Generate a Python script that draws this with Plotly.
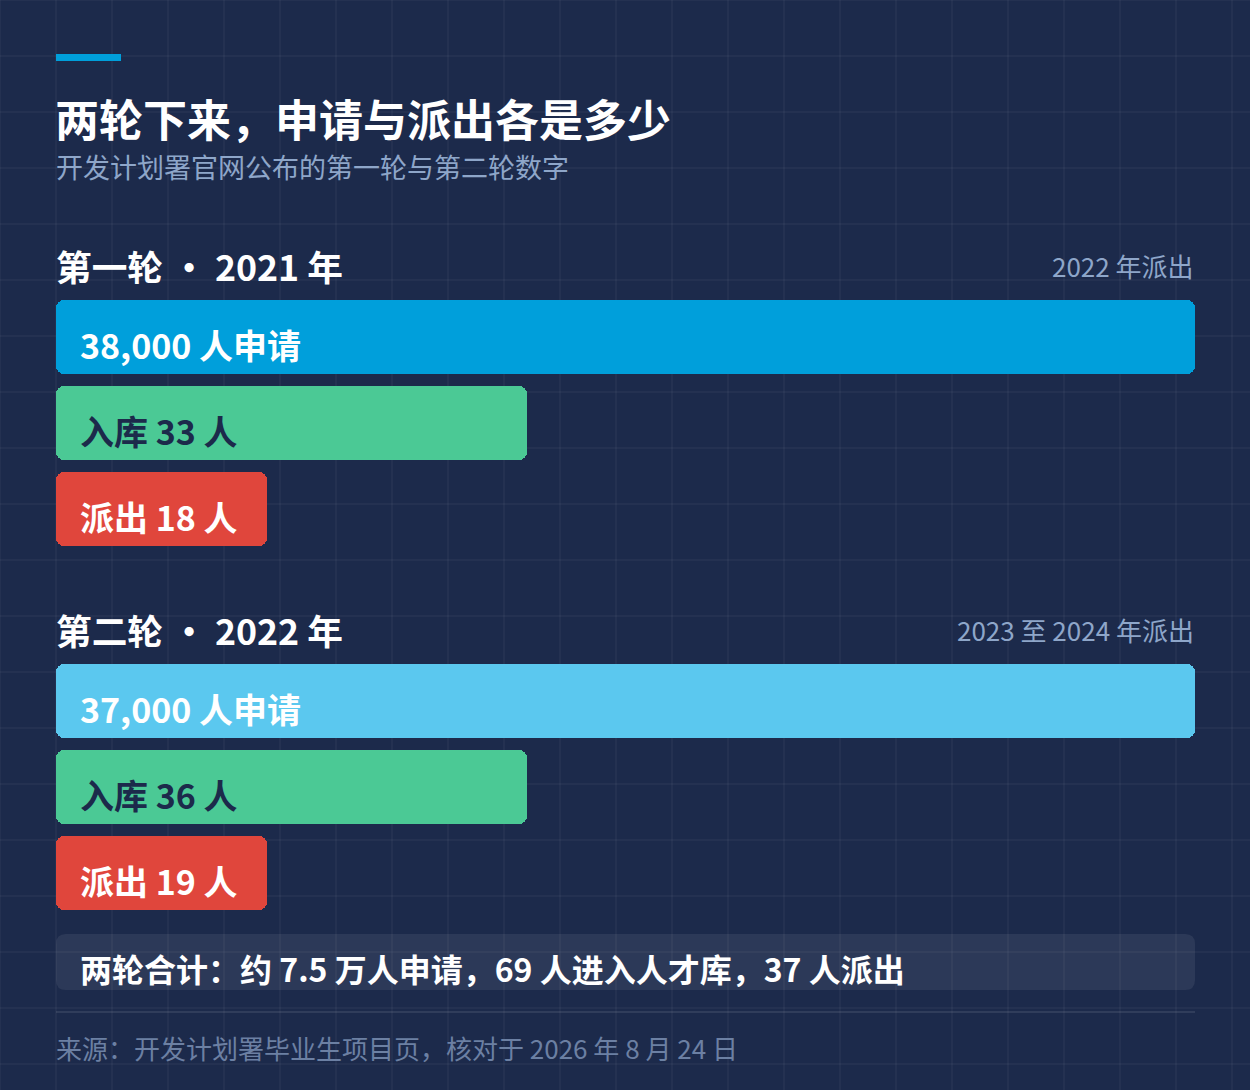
import plotly.graph_objects as go
from plotly.subplots import make_subplots

# ---------------- data ----------------
rounds = ["第一轮", "第二轮"]
round_years = ["2021", "2022"]
dispatch_notes = ["2022 年派出", "2023 至 2024 年派出"]
stages = ["申请", "入库", "派出"]
applicants = [38000, 37000]
talent_pool = [33, 36]
dispatched = [18, 19]

title_text = "两轮下来，申请与派出各是多少"
subtitle_text = "开发计划署官网公布的第一轮与第二轮数字"
source_text = "来源：开发计划署毕业生项目页，核对于 2026 年 8 月 24 日"

# ---------------- style ----------------
W, H = 1250, 1090
BG = "#1c2a4b"
GRID = "rgba(255,255,255,0.075)"
FONT = "Noto Sans CJK SC, Noto Sans, sans-serif"
APPLY_COLORS = ["#009fdb", "#5bc8ef"]
POOL_COLOR = "#4bc995"
SENT_COLOR = "#e0463c"
MUTED = "#8ea6c9"
FOOT = "#6c80a3"
# visual length of each stage bar (design tiers, not proportional)
TIER_LEN = [1.0, 0.4135, 0.185]
LEFT, RIGHT = 56, 1195


def X(px):
    return px / W


def Y(py):
    return 1 - py / H


fig = make_subplots(rows=2, cols=1)

# subplot domains (pixel layout of the two bar groups)
domains = [(294, 552), (658, 916)]
axes = [("x", "y"), ("x2", "y2")]

annotations = []
for r in range(2):
    vals = [applicants[r], talent_pool[r], dispatched[r]]
    colors = [APPLY_COLORS[r], POOL_COLOR, SENT_COLOR]
    lens = TIER_LEN
    # right half (rounded right end) and left half (rounded left end)
    fig.add_trace(go.Bar(
        y=stages, x=[l * 0.55 for l in lens], base=[l * 0.45 for l in lens],
        orientation="h", marker=dict(color=colors, cornerradius=8, line=dict(width=0)),
        width=0.86, hoverinfo="skip", showlegend=False), row=r + 1, col=1)
    fig.add_trace(go.Bar(
        y=stages, x=[-l * 0.55 for l in lens], base=[l * 0.55 for l in lens],
        orientation="h", marker=dict(color=colors, cornerradius=8, line=dict(width=0)),
        width=0.86, hoverinfo="skip", showlegend=False), row=r + 1, col=1)

    xr, yr = axes[r]
    labels = [f"{vals[0]:,} 人申请", f"入库 {vals[1]} 人", f"派出 {vals[2]} 人"]
    tcolors = ["#ffffff", BG, "#ffffff"]
    for s, lab, tc in zip(stages, labels, tcolors):
        annotations.append(dict(
            xref=xr, yref=yr, x=0, y=s, text=lab, showarrow=False,
            xanchor="left", yanchor="middle", xshift=22, yshift=-7,
            font=dict(family=FONT, size=34, color=tc, weight=700)))

    # section heading and note
    head_y = [265, 629][r]
    annotations.append(dict(
        xref="paper", yref="paper", x=X(LEFT - 2), y=Y(head_y),
        text=f"{rounds[r]} · {round_years[r]} 年", showarrow=False,
        xanchor="left", yanchor="middle",
        font=dict(family=FONT, size=35.7, color="#ffffff", weight=700)))
    annotations.append(dict(
        xref="paper", yref="paper", x=X(RIGHT + 1), y=Y(head_y),
        text=dispatch_notes[r], showarrow=False,
        xanchor="right", yanchor="middle",
        font=dict(family=FONT, size=26, color=MUTED)))

fig.update_xaxes(range=[0, 1], domain=[X(LEFT), X(RIGHT)], visible=False, fixedrange=True)
fig.update_yaxes(visible=False, fixedrange=True)
for i, (t, b) in enumerate(domains):
    key = "yaxis" if i == 0 else "yaxis2"
    fig.layout[key].update(domain=[Y(b), Y(t)], range=[2.5, -0.5],
                           type="category", categoryorder="array", categoryarray=stages)

# title block
annotations.append(dict(xref="paper", yref="paper", x=X(LEFT - 3), y=Y(118), text=title_text,
                        showarrow=False, xanchor="left", yanchor="middle",
                        font=dict(family=FONT, size=44, color="#ffffff", weight=700)))
annotations.append(dict(xref="paper", yref="paper", x=X(LEFT - 2), y=Y(166), text=subtitle_text,
                        showarrow=False, xanchor="left", yanchor="middle",
                        font=dict(family=FONT, size=27, color=MUTED)))

# summary
tot_apply = sum(applicants) / 10000
tot_pool = sum(talent_pool)
tot_sent = sum(dispatched)
summary = f"两轮合计：约 {tot_apply:.1f} 万人申请，{tot_pool} 人进入人才库，{tot_sent} 人派出"
annotations.append(dict(xref="paper", yref="paper", x=X(78), y=Y(968), text=summary,
                        showarrow=False, xanchor="left", yanchor="middle",
                        font=dict(family=FONT, size=32, color="#ffffff", weight=700)))
annotations.append(dict(xref="paper", yref="paper", x=X(LEFT - 2), y=Y(1047), text=source_text,
                        showarrow=False, xanchor="left", yanchor="middle",
                        font=dict(family=FONT, size=26, color=FOOT)))

shapes = []
for gx in range(0, W + 1, 56):
    shapes.append(dict(type="line", xref="paper", yref="paper", x0=X(gx), x1=X(gx), y0=0, y1=1,
                       line=dict(color=GRID, width=1), layer="below"))
for gy in range(0, H + 1, 56):
    shapes.append(dict(type="line", xref="paper", yref="paper", x0=0, x1=1, y0=Y(gy), y1=Y(gy),
                       line=dict(color=GRID, width=1), layer="below"))
# accent line
shapes.append(dict(type="rect", xref="paper", yref="paper", x0=X(56), x1=X(121), y0=Y(61), y1=Y(54),
                   fillcolor="#009fdb", line=dict(width=0), layer="below"))
# summary box (rounded)
bx0, bx1, by0, by1, rr = 56, 1195, 934, 990, 10
path = (f"M {X(bx0 + rr)},{Y(by0)} L {X(bx1 - rr)},{Y(by0)} "
        f"Q {X(bx1)},{Y(by0)} {X(bx1)},{Y(by0 + rr)} L {X(bx1)},{Y(by1 - rr)} "
        f"Q {X(bx1)},{Y(by1)} {X(bx1 - rr)},{Y(by1)} L {X(bx0 + rr)},{Y(by1)} "
        f"Q {X(bx0)},{Y(by1)} {X(bx0)},{Y(by1 - rr)} L {X(bx0)},{Y(by0 + rr)} "
        f"Q {X(bx0)},{Y(by0)} {X(bx0 + rr)},{Y(by0)} Z")
shapes.append(dict(type="path", xref="paper", yref="paper", path=path,
                   fillcolor="rgba(255,255,255,0.075)", line=dict(width=0), layer="below"))
# divider
shapes.append(dict(type="line", xref="paper", yref="paper", x0=X(56), x1=X(1195), y0=Y(1012), y1=Y(1012),
                   line=dict(color="rgba(255,255,255,0.18)", width=1), layer="below"))

fig.update_layout(
    width=W, height=H, margin=dict(l=0, r=0, t=0, b=0),
    paper_bgcolor=BG, plot_bgcolor="rgba(0,0,0,0)",
    barmode="overlay", bargap=0,
    shapes=shapes, annotations=annotations, showlegend=False,
)

fig.write_html("out.html", config={"displayModeBar": False},
               post_script="document.body.style.margin='0';document.body.style.overflow='hidden';"
                           "document.body.style.background='" + BG + "';")
